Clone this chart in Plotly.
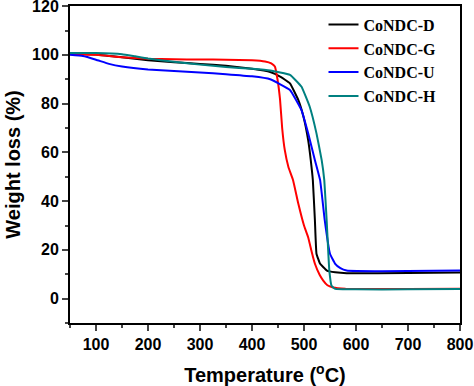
import plotly.graph_objects as go

# CoNDC-D (black)
t_d = [50, 100, 150, 200, 250, 300, 350, 400, 435, 455, 473, 489, 499, 508, 513, 517, 521, 524, 531, 544, 560, 582, 700, 800]
w_d = [100.6, 100.2, 99.0, 97.8, 97.0, 96.3, 95.5, 94.3, 93.0, 91.0, 88.3, 81.5, 74.6, 65.0, 56.8, 48.6, 32.0, 18.4, 14.3, 11.5, 10.8, 10.4, 10.5, 10.7]

# CoNDC-G (red)
t_g = [50, 100, 150, 200, 250, 300, 350, 400, 425, 437, 444, 449, 454, 458, 463, 470, 479, 489, 500, 508, 515, 521, 530, 537, 545, 556, 580, 700, 800]
w_g = [100.3, 100.0, 99.0, 98.4, 98.2, 98.1, 98.0, 97.8, 97.3, 96.5, 95.2, 90.0, 81.5, 70.0, 61.0, 54.0, 48.6, 39.0, 30.0, 25.2, 19.0, 14.3, 9.8, 7.4, 5.5, 4.6, 4.1, 3.9, 4.0]

# CoNDC-U (blue)
t_u = [50, 75, 100, 125, 150, 200, 250, 300, 350, 400, 435, 473, 495, 508, 521, 531, 540, 550, 560, 570, 582, 650, 800]
w_u = [100.0, 99.5, 98.0, 96.3, 95.2, 94.0, 93.4, 92.8, 92.1, 91.2, 90.0, 85.6, 77.4, 67.8, 56.8, 48.6, 32.0, 18.4, 14.3, 12.5, 11.5, 11.2, 11.5]

# CoNDC-H (teal)
t_h = [50, 100, 150, 175, 200, 250, 300, 350, 400, 435, 473, 495, 511, 524, 534, 539, 543.6, 548.7, 553, 560, 600, 700, 800]
w_h = [100.8, 100.8, 100.3, 99.4, 98.5, 97.2, 96.0, 95.0, 94.3, 93.6, 91.8, 87.0, 78.7, 67.8, 56.8, 48.6, 32.0, 11.5, 5.3, 4.0, 3.8, 3.8, 3.9]

names = ["CoNDC-D", "CoNDC-G", "CoNDC-U", "CoNDC-H"]
colors = ["#000000", "#FF0000", "#0000FF", "#008080"]

x_ticks = [100, 200, 300, 400, 500, 600, 700, 800]
y_ticks = [0, 20, 40, 60, 80, 100, 120]

fig = go.Figure()
for name, t, w, c in zip(names, [t_d, t_g, t_u, t_h], [w_d, w_g, w_u, w_h], colors):
    fig.add_trace(go.Scatter(x=t, y=w, mode="lines", name=name,
                             line=dict(color=c, width=2, shape="spline", smoothing=0.3)))

axis_font = dict(family="Liberation Sans, Arial", size=16, color="black", weight="bold")
title_font = dict(family="Liberation Sans, Arial", size=20, color="black", weight="bold")

fig.update_layout(
    width=474, height=386,
    margin=dict(l=70, r=14, t=6, b=63),
    plot_bgcolor="white", paper_bgcolor="white",
    showlegend=True,
    legend=dict(x=0.65, y=0.995, xanchor="left", yanchor="top",
                bgcolor="rgba(0,0,0,0)",
                font=dict(family="Liberation Serif, Times New Roman", size=16, color="black", weight="bold")),
    xaxis=dict(range=[50, 800], tickvals=x_ticks, ticks="outside", ticklen=6, tickwidth=2,
               showline=True, linewidth=2, linecolor="black", mirror=True, showgrid=False, zeroline=False,
               tickfont=axis_font, automargin=False, ticklabeloverflow="allow",
               minor=dict(ticks="outside", ticklen=3, tickwidth=2, dtick=50, tick0=0, showgrid=False),
               title=dict(text="Temperature (<sup>o</sup>C)", font=title_font, standoff=17)),
    yaxis=dict(range=[-10, 120.05], tickvals=y_ticks, ticks="outside", ticklen=6, tickwidth=2,
               showline=True, linewidth=2, linecolor="black", mirror=True, showgrid=False, zeroline=False,
               tickfont=axis_font, automargin=False, ticklabeloverflow="allow",
               minor=dict(ticks="outside", ticklen=3, tickwidth=2, dtick=10, tick0=0, showgrid=False),
               title=dict(text="Weight loss (%)", font=title_font, standoff=6)),
)

fig.write_html("out.html", config={"displayModeBar": False},
               post_script="document.body.style.margin='0';")
